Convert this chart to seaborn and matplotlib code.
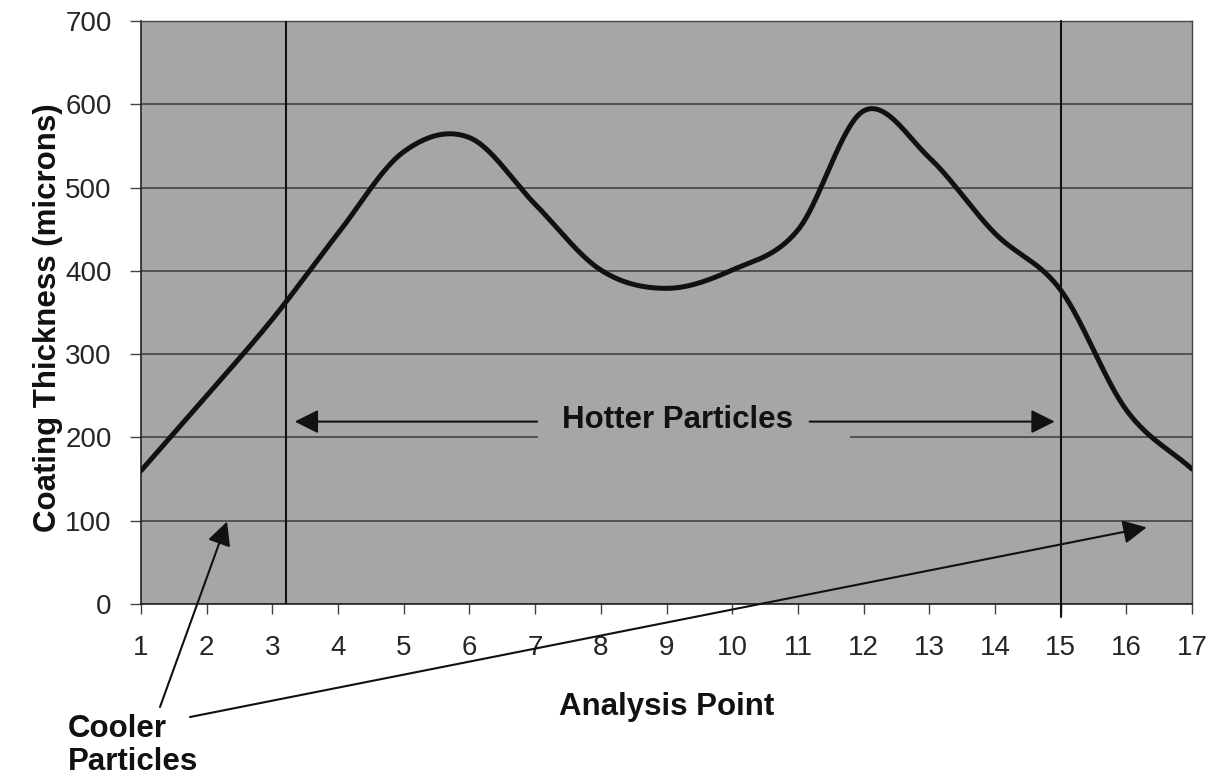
import numpy as np
import pandas as pd
import matplotlib
matplotlib.use("Agg")
import matplotlib.pyplot as plt
from matplotlib.patches import Rectangle
import seaborn as sns

# ---- data ----
analysis_points = [1, 2, 3, 4, 5, 6, 7, 8, 9, 10, 11, 12, 13, 14, 15, 16, 17]
thickness = [160, 250, 342, 445, 543, 560, 480, 401, 379, 401, 449, 592, 536, 445, 377, 233, 162]
y_ticks = [0, 100, 200, 300, 400, 500, 600, 700]
zone_lines = [3.2, 15]
hot_label = "Hotter Particles"
cool_label = ["Cooler", "Particles"]
x_label = "Analysis Point"
y_label = "Coating Thickness (microns)"

BG = "#a6a6a6"


def smooth(xs, ys, n=40):
    """Catmull-Rom rendering of the line (like a spreadsheet 'smoothed line')."""
    xs = np.asarray(xs, float)
    ys = np.asarray(ys, float)
    px = np.concatenate([[2 * xs[0] - xs[1]], xs, [2 * xs[-1] - xs[-2]]])
    py = np.concatenate([[2 * ys[0] - ys[1]], ys, [2 * ys[-1] - ys[-2]]])
    ox, oy = [], []
    t = np.linspace(0, 1, n, endpoint=False)
    for i in range(1, len(px) - 2):
        for arr, out in ((px, ox), (py, oy)):
            p0, p1, p2, p3 = arr[i - 1], arr[i], arr[i + 1], arr[i + 2]
            m1 = (p2 - p0) / 2
            m2 = (p3 - p1) / 2
            h00 = 2 * t**3 - 3 * t**2 + 1
            h10 = t**3 - 2 * t**2 + t
            h01 = -2 * t**3 + 3 * t**2
            h11 = t**3 - t**2
            out.extend(h00 * p1 + h10 * m1 + h01 * p2 + h11 * m2)
    ox.append(xs[-1])
    oy.append(ys[-1])
    return np.array(ox), np.array(oy)


sns.set_style("white")
plt.rcParams["font.family"] = ["Liberation Sans", "DejaVu Sans"]

fig = plt.figure(figsize=(12.25, 7.79), dpi=100)
ax = fig.add_axes([141 / 1225, 1 - 604 / 779, (1192 - 141) / 1225, (604 - 21) / 779])
ax.set_facecolor(BG)

sx, sy = smooth(analysis_points, thickness)
df = pd.DataFrame({"x": sx, "y": sy})
sns.lineplot(data=df, x="x", y="y", ax=ax, color="#111111", linewidth=3.6,
             sort=False, zorder=6)

ax.set_xlim(analysis_points[0], analysis_points[-1])
ax.set_ylim(y_ticks[0], y_ticks[-1])
ax.set_xticks(analysis_points)
ax.set_yticks(y_ticks)
ax.set_xticklabels([str(v) for v in analysis_points])
ax.set_yticklabels([str(v) for v in y_ticks])
ax.set_xlabel("")
ax.set_ylabel("")

ax.yaxis.grid(True, color="#3a3a3a", linewidth=1.1, zorder=1)
ax.xaxis.grid(False)
ax.set_axisbelow(True)

ax.tick_params(axis="x", direction="out", length=7, width=1, color="#444444",
               pad=15, labelsize=20, bottom=True)
ax.tick_params(axis="y", direction="out", length=8, width=1, color="#444444",
               pad=13, labelsize=20, left=True)

for side in ["left", "bottom"]:
    ax.spines[side].set_color("#222222")
    ax.spines[side].set_linewidth(1.2)
for side in ["top", "right"]:
    ax.spines[side].set_color("#444444")
    ax.spines[side].set_linewidth(1.0)

# zone boundary lines
ax.axvline(zone_lines[0], color="#111111", linewidth=1.5, zorder=4)
ax.axvline(zone_lines[1], ymin=-0.022, ymax=1, color="#111111", linewidth=1.5,
           zorder=4, clip_on=False)

# gray box behind "Hotter Particles"
ax.add_patch(Rectangle((7.05, 190), 4.75, 60, facecolor=BG, edgecolor="none", zorder=3))
ax.text(9.16, 211, hot_label, ha="center", va="baseline", fontsize=22.5,
        fontweight="bold", color="#111111", zorder=7)

arrow_kw = dict(arrowstyle="-|>,head_length=0.4,head_width=0.2", color="#111111",
                lw=1.5, shrinkA=0, shrinkB=0, mutation_scale=36)
ax.annotate("", xy=(3.34, 219), xytext=(7.03, 219), arrowprops=arrow_kw, zorder=7)
ax.annotate("", xy=(14.91, 219), xytext=(11.18, 219), arrowprops=arrow_kw, zorder=7)

# cooler particles arrows (from text below the axes)
ax.annotate("", xy=(2.31, 99), xycoords="data", xytext=(160, 72),
            textcoords="figure pixels", arrowprops=arrow_kw, zorder=7,
            annotation_clip=False)
ax.annotate("", xy=(16.31, 92), xycoords="data", xytext=(190, 62),
            textcoords="figure pixels", arrowprops=arrow_kw, zorder=7,
            annotation_clip=False)

fig.text(68 / 1225, (779 - 737) / 779, cool_label[0], ha="left", va="baseline",
         fontsize=22.5, fontweight="bold", color="#111111")
fig.text(68 / 1225, (779 - 770) / 779, cool_label[1], ha="left", va="baseline",
         fontsize=22.5, fontweight="bold", color="#111111")

fig.text(666.5 / 1225, (779 - 715) / 779, x_label, ha="center", va="baseline",
         fontsize=22.5, fontweight="bold", color="#111111")
fig.text(48 / 1225, 1 - 318 / 779, y_label, ha="center", va="center", rotation=90,
         fontsize=22.5, fontweight="bold", color="#111111")

fig.savefig("out.png", dpi=100, facecolor="white")
